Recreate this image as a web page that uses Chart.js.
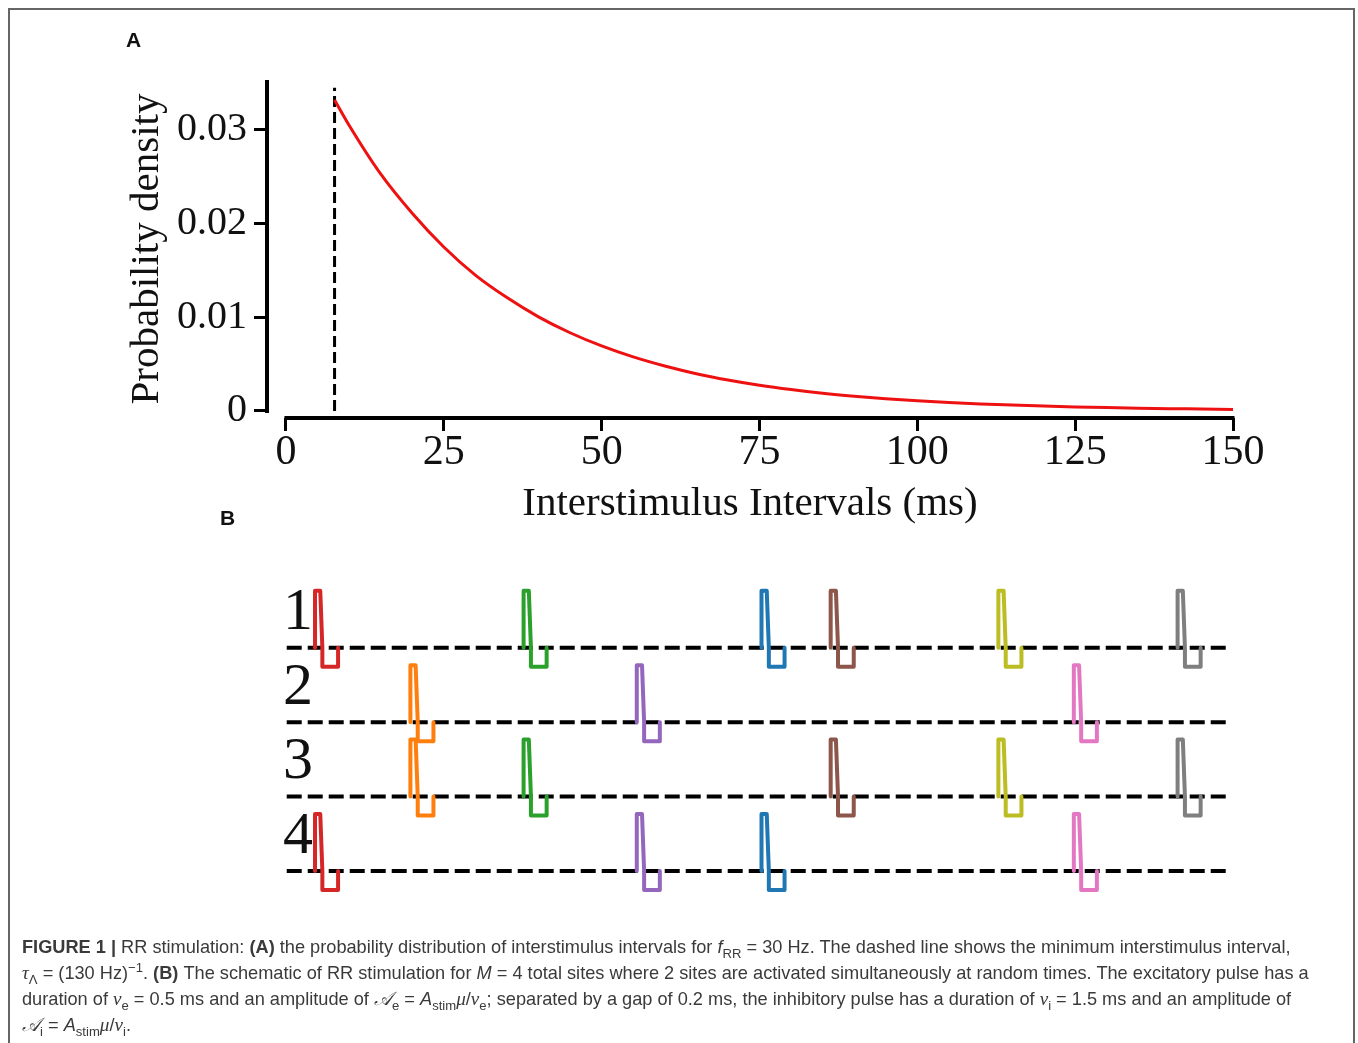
<!DOCTYPE html>
<html lang="en">
<head>
<meta charset="UTF-8">
<title>RR stimulation</title>
<script src="https://cdn.jsdelivr.net/npm/chart.js@4.4.1/dist/chart.umd.min.js"></script>
<style>
  body { margin: 0; width: 1358px; height: 1043px; overflow: hidden; position: relative; background: #fff;
         font-family: "Liberation Sans", Arial, sans-serif; }
  .frame { position: absolute; left: 8px; top: 8px; width: 1347px; height: 1100px; box-sizing: border-box;
           border: 2px solid #666; border-bottom: none; }
  .wrap { position: absolute; left: 0; width: 1358px; }
  .panel { position: absolute; font-weight: bold; font-size: 21px; color: #111; z-index: 2; }
  .caption { position: absolute; left: 22px; top: 935px; font-size: 18.2px; line-height: 25px; color: #3a3a3a;
             white-space: nowrap; }
  .caption sub, .caption sup { font-size: 0.72em; line-height: 0; }
  .m { font-family: "Liberation Serif", serif; font-style: italic; font-size: 1.05em; }
</style>
</head>
<body>
<div class="frame"></div>

<div class="wrap" style="top:0; height:560px;"><canvas id="isiChart"></canvas></div>
<div class="wrap" style="top:532px; height:416px;"><canvas id="rrChart"></canvas></div>

<div class="panel" style="left:126px; top:28px;">A</div>
<div class="panel" style="left:220px; top:506px;">B</div>

<div class="caption">
  <b>FIGURE 1 |</b> RR stimulation: <b>(A)</b> the probability distribution of interstimulus intervals for <i>f</i><sub>RR</sub> = 30 Hz. The dashed line shows the minimum interstimulus interval,<br>
  <span class="m">τ</span><sub>Λ</sub> = (130 Hz)<sup>−1</sup>. <b>(B)</b> The schematic of RR stimulation for <i>M</i> = 4 total sites where 2 sites are activated simultaneously at random times. The excitatory pulse has a<br>
  duration of <span class="m">ν</span><sub>e</sub> = 0.5 ms and an amplitude of <span class="m">𝒜</span><sub>e</sub> = <i>A</i><sub>stim</sub><span class="m">μ</span>/<span class="m">ν</span><sub>e</sub>; separated by a gap of 0.2 ms, the inhibitory pulse has a duration of <span class="m">ν</span><sub>i</sub> = 1.5 ms and an amplitude of<br>
  <span class="m">𝒜</span><sub>i</sub> = <i>A</i><sub>stim</sub><span class="m">μ</span>/<span class="m">ν</span><sub>i</sub>.
</div>

<script>
// ---- panel A: interstimulus interval density ----
const isiMs = [7.7, 10, 15, 20, 25, 30, 35, 40, 45, 50, 55, 60, 65, 70, 75, 80, 85, 90, 95, 100,
               105, 110, 115, 120, 125, 130, 135, 140, 145, 150];
const density = [0.0332, 0.0305, 0.0253, 0.0211, 0.0175, 0.0145, 0.0121, 0.01005, 0.00835, 0.00694,
                 0.00577, 0.00480, 0.00398, 0.00331, 0.00275, 0.00229, 0.00190, 0.00158, 0.00131, 0.00109,
                 0.00091, 0.00075, 0.00063, 0.00052, 0.00043, 0.00036, 0.00030, 0.00025, 0.00021, 0.00017];
const minIsi = 7.7;           // (130 Hz)^-1 in ms
const minIsiTop = 0.0345;
const xTicksA = [0, 25, 50, 75, 100, 125, 150];
const yTicksA = [0, 0.01, 0.02, 0.03];

// ---- panel B: pulse schematic ----
const rowLabels = ['1', '2', '3', '4'];
const rowBase = [3.915, 2.61, 1.305, 0];
const eventTimes = [2.7, 11.8, 22.6, 33.4, 45.3, 51.9, 67.9, 75.1, 85.0];
const eventSites = [[1, 4], [2, 3], [1, 3], [2, 4], [1, 4], [1, 3], [1, 3], [2, 4], [1, 3]];
const eventColors = ['#d62728', '#ff7f0e', '#2ca02c', '#9467bd', '#1f77b4', '#8c564b', '#bcbd22', '#e377c2', '#7f7f7f'];
const pulseT = [0, 0, 0.5, 0.7, 0.7, 2.2, 2.2];
const pulseA = [0, 1, 1, 0, -1 / 3, -1 / 3, 0];
const baseEnd = 90;

const serif = '"Liberation Serif", "Times New Roman", serif';

// matplotlib-like offset spines
const spines = {
  id: 'spines',
  afterDatasetsDraw(chart) {
    const {ctx, chartArea, scales: {x, y}} = chart;
    ctx.save();
    ctx.strokeStyle = '#000';
    ctx.lineWidth = 4;
    ctx.beginPath();
    ctx.moveTo(chartArea.left, y.getPixelForValue(0) + 2);
    ctx.lineTo(chartArea.left, chartArea.top);
    ctx.moveTo(x.getPixelForValue(0) - 1.5, chartArea.bottom);
    ctx.lineTo(x.getPixelForValue(150) + 1.5, chartArea.bottom);
    ctx.stroke();
    ctx.restore();
  }
};

new Chart(document.getElementById('isiChart'), {
  type: 'line',
  data: {
    datasets: [
      {
        data: isiMs.map((t, i) => ({x: t, y: density[i]})),
        borderColor: '#ee1111', borderWidth: 3, pointRadius: 0, cubicInterpolationMode: 'monotone'
      },
      {
        data: [{x: minIsi, y: 0}, {x: minIsi, y: minIsiTop}],
        borderColor: '#000', borderWidth: 3, borderDash: [11, 5], pointRadius: 0
      }
    ]
  },
  options: {
    responsive: true, maintainAspectRatio: false, animation: false,
    layout: {padding: {left: 0, top: 80, right: 125, bottom: 12}},
    plugins: {legend: {display: false}, tooltip: {enabled: false}},
    scales: {
      x: {
        type: 'linear', min: -3, max: 150,
        afterBuildTicks: s => { s.ticks = xTicksA.map(v => ({value: v})); },
        afterFit: s => { s.height = 130; },
        grid: {drawOnChartArea: false, tickLength: 13, tickWidth: 3, tickColor: '#000'},
        border: {display: false},
        ticks: {color: '#111', padding: 1, font: {family: serif, size: 42, lineHeight: 1}},
        title: {display: true, text: 'Interstimulus Intervals (ms)', color: '#111',
                font: {family: serif, size: 41}, padding: {bottom: 19}}
      },
      y: {
        min: -0.00075, max: 0.03533,
        afterBuildTicks: s => { s.ticks = yTicksA.map(v => ({value: v})); },
        afterFit: s => { s.width = 267; },
        grid: {drawOnChartArea: false, tickLength: 13, tickWidth: 3, tickColor: '#000'},
        border: {display: false},
        ticks: {color: '#111', padding: 7, font: {family: serif, size: 40},
                callback: v => v === 0 ? '0' : v.toFixed(2)},
        title: {display: true, text: 'Probability density', color: '#111',
                font: {family: serif, size: 41}, padding: {top: 123}}
      }
    }
  },
  plugins: [spines]
});

// ---- panel B datasets ----
const bSets = [];
eventTimes.forEach((t0, k) => {
  eventSites[k].forEach(site => {
    bSets.push({
      data: pulseT.map((dt, i) => ({x: t0 + dt, y: rowBase[site - 1] + pulseA[i]})),
      borderColor: eventColors[k], borderWidth: 4, pointRadius: 0,
      borderJoinStyle: 'round', borderCapStyle: 'round', order: 1
    });
  });
});
rowBase.forEach(b => {
  bSets.push({
    data: [{x: 0, y: b}, {x: baseEnd, y: b}],
    borderColor: '#000', borderWidth: 4, borderDash: [15, 6], pointRadius: 0, order: 2
  });
});

new Chart(document.getElementById('rrChart'), {
  type: 'line',
  data: {datasets: bSets},
  options: {
    responsive: true, maintainAspectRatio: false, animation: false,
    layout: {padding: {left: 0, top: 0, right: 128, bottom: 0}},
    plugins: {legend: {display: false}, tooltip: {enabled: false}},
    scales: {
      x: {type: 'linear', min: -1.5, max: baseEnd, display: false},
      y: {
        min: -0.509, max: 5.105,
        afterBuildTicks: s => { s.ticks = rowBase.map(b => ({value: b + 0.6})); },
        afterFit: s => { s.width = 271; },
        grid: {display: false},
        border: {display: false},
        ticks: {mirror: true, padding: 12, autoSkip: false, color: '#111',
                font: {family: serif, size: 60},
                callback: (v, i) => rowLabels[i]}
      }
    }
  }
});
</script>
</body>
</html>
